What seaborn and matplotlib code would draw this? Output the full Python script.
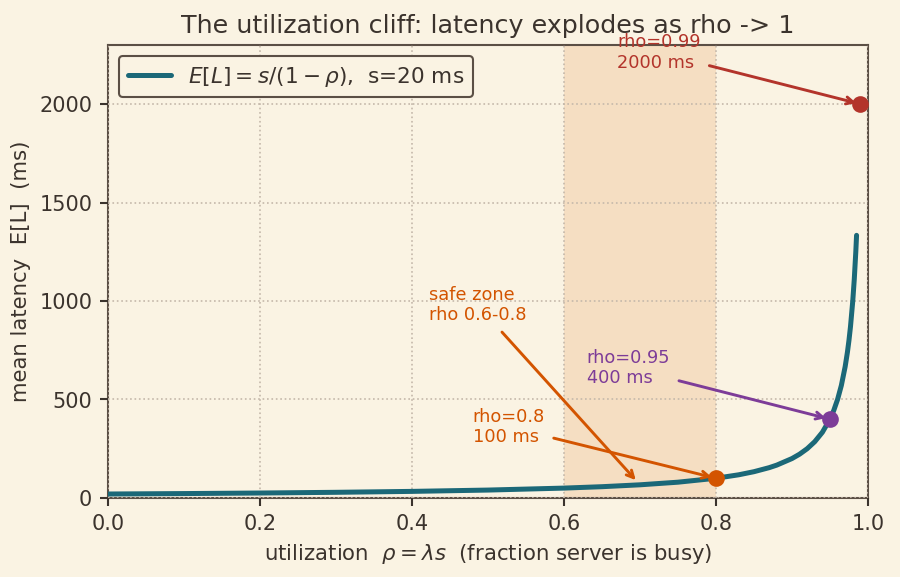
import matplotlib
matplotlib.use("Agg")
import matplotlib.pyplot as plt
import seaborn as sns
import pandas as pd

# ---- data ----
rho_curve = [0.0, 0.1, 0.2, 0.3, 0.4, 0.5, 0.6, 0.65, 0.7, 0.75, 0.8, 0.83, 0.85,
             0.87, 0.88, 0.9, 0.91, 0.92, 0.93, 0.94, 0.95, 0.955, 0.96, 0.965,
             0.97, 0.973, 0.975, 0.977, 0.98, 0.982, 0.984, 0.985]
latency_curve = [20, 22.2, 25, 28.6, 33.3, 40, 50, 57.1, 66.7, 80, 100, 117.6, 133.3,
                 153.8, 166.7, 200, 222.2, 250, 285.7, 333.3, 400, 444.4, 500, 571.4,
                 666.7, 740.7, 800, 869.6, 1000, 1111.1, 1250, 1333.3]
mark_rho = [0.8, 0.95, 0.99]
mark_lat = [100, 400, 2000]
mark_labels = ["rho=0.8\n100 ms", "rho=0.95\n400 ms", "rho=0.99\n2000 ms"]
mark_text_pos = [(0.48, 360), (0.63, 660), (0.67, 2260)]
safe_zone = (0.6, 0.8)
safe_label = "safe zone\nrho 0.6-0.8"

BG = "#faf3e3"
TEXT = "#3b332d"
SPINE = "#5b4f45"
TEAL = "#1b6878"
ORANGE = "#d35400"
PURPLE = "#7d3c98"
RED = "#b3342b"
mark_colors = [ORANGE, PURPLE, RED]

sns.set_theme(style="whitegrid")
plt.rcParams.update({
    "figure.facecolor": BG,
    "axes.facecolor": BG,
    "axes.edgecolor": SPINE,
    "axes.linewidth": 1.0,
    "grid.color": "#c4b8aa",
    "grid.linestyle": ":",
    "grid.linewidth": 0.8,
    "text.color": TEXT,
    "axes.labelcolor": TEXT,
    "xtick.color": TEXT,
    "ytick.color": TEXT,
    "xtick.bottom": True,
    "ytick.left": True,
    "xtick.major.size": 4,
    "ytick.major.size": 4,
    "xtick.major.width": 1.0,
    "ytick.major.width": 1.0,
})
plt.rcParams["font.family"] = ["DejaVu Sans"]

fig = plt.figure(figsize=(6.0, 3.847), dpi=150)
ax = fig.add_axes([0.12, 0.137, 0.8444, 0.785])

ax.axvspan(safe_zone[0], safe_zone[1], color="#f5dcbf", alpha=0.9, zorder=0, lw=0)
ax.set_axisbelow(False)
ax.grid(True, zorder=1)

df = pd.DataFrame({"rho": rho_curve, "lat": latency_curve})
sns.lineplot(data=df, x="rho", y="lat", ax=ax, color=TEAL, lw=2.4, zorder=3,
             label=r"$E[L]=s/(1-\rho)$,  s=20 ms", sort=True, estimator=None)

for r, l, c, lab, pos in zip(mark_rho, mark_lat, mark_colors, mark_labels, mark_text_pos):
    ax.plot([r], [l], "o", color=c, ms=7, zorder=5)
    ax.annotate(lab, xy=(r, l), xytext=pos, color=c, fontsize=8.5, ha="left", va="center",
                arrowprops=dict(arrowstyle="->", color=c, lw=1.4, shrinkA=2, shrinkB=2),
                zorder=6, annotation_clip=False)

ax.annotate(safe_label, xy=(0.7, 66.7), xytext=(0.422, 980), color=ORANGE, fontsize=8.5,
            ha="left", va="center",
            arrowprops=dict(arrowstyle="->", color=ORANGE, lw=1.4, shrinkA=2, shrinkB=3),
            zorder=6)

ax.set_xlim(0, 1.0)
ax.set_ylim(0, 2300)
ax.set_xticks([0.0, 0.2, 0.4, 0.6, 0.8, 1.0])
ax.set_yticks([0, 500, 1000, 1500, 2000])
ax.tick_params(labelsize=10)
ax.set_xlabel(r"utilization  $\rho=\lambda s$  (fraction server is busy)", fontsize=10.2)
ax.set_ylabel("mean latency  E[L]  (ms)", fontsize=10.2)
ax.set_title("The utilization cliff: latency explodes as rho -> 1", fontsize=12.2, color=TEXT)

leg = ax.legend(loc="upper left", fontsize=10.4, frameon=True, fancybox=True,
                facecolor=BG, edgecolor=SPINE, framealpha=1.0)
leg.get_frame().set_linewidth(1.0)
for t in leg.get_texts():
    t.set_color(TEXT)

for s in ax.spines.values():
    s.set_visible(True)
    s.set_color(SPINE)

fig.savefig("out.png", dpi=150, facecolor=BG)
